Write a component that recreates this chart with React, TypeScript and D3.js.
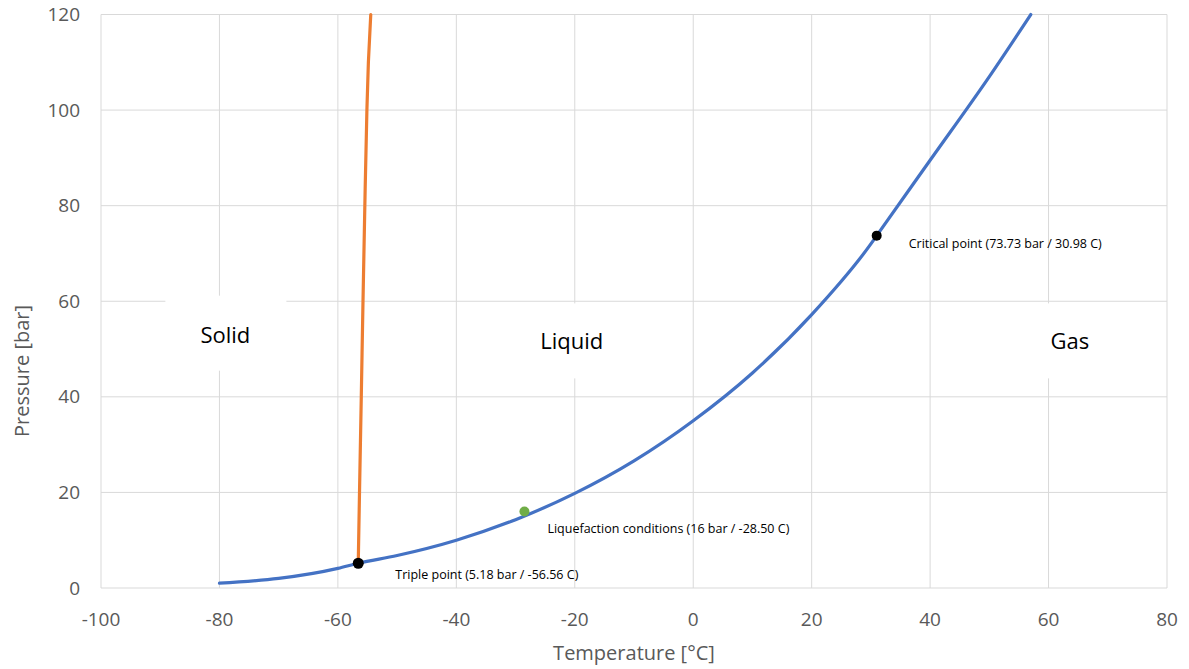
import { useEffect, useRef } from "react";
import * as d3 from "d3";

// vapour pressure curve (blue)
const vaporTemp = [-80, -70, -60, -56.56, -50, -40, -30, -20, -10, 0, 10, 20, 30, 30.98, 40, 50, 57];
const vaporPres = [1.0, 2.0, 4.1, 5.18, 6.8, 10.0, 14.3, 19.8, 26.6, 35.0, 45.0, 57.2, 72.0, 73.73, 89.5, 107, 120];

// melting curve (orange)
const meltTemp = [-56.56, -56.35, -56.05, -55.76, -55.45, -55.1, -54.85, -54.45];
const meltPres = [5.18, 20, 40, 60, 80, 100, 110, 120];

const xTicks = [-100, -80, -60, -40, -20, 0, 20, 40, 60, 80];
const yTicks = [0, 20, 40, 60, 80, 100, 120];

const pointNames = ["Triple point (5.18 bar / -56.56 C)", "Liquefaction conditions (16 bar / -28.50 C)", "Critical point (73.73 bar / 30.98 C)"];
const pointTemp = [-56.56, -28.5, 30.98];
const pointPres = [5.18, 16, 73.73];
const pointColor = ["#000000", "#70AD47", "#000000"];

const phaseNames = ["Solid", "Liquid", "Gas"];
const phaseTemp = [-79, -20.5, 63.6];
const phasePres = [52.8, 51.6, 51.6];

const W = 1189;
const H = 669;
const margin = { top: 14.5, right: 22, bottom: 81, left: 101 };

const PhaseDiagram = () => {
  const svgRef = useRef<SVGSVGElement | null>(null);

  useEffect(() => {
    const svg = d3.select(svgRef.current);
    svg.selectAll("*").remove();

    const x = d3.scaleLinear().domain([-100, 80]).range([margin.left, W - margin.right]);
    const y = d3.scaleLinear().domain([0, 120]).range([H - margin.bottom, margin.top]);

    const grid = svg.append("g");
    grid
      .selectAll("line.v")
      .data(xTicks)
      .join("line")
      .attr("x1", (d) => x(d))
      .attr("x2", (d) => x(d))
      .attr("y1", y(0))
      .attr("y2", y(120))
      .attr("stroke", "#d9d9d9")
      .attr("stroke-width", 1);
    grid
      .selectAll("line.h")
      .data(yTicks)
      .join("line")
      .attr("x1", x(-100))
      .attr("x2", x(80))
      .attr("y1", (d) => y(d))
      .attr("y2", (d) => y(d))
      .attr("stroke", "#d9d9d9")
      .attr("stroke-width", 1);

    // phase labels, white boxes hide the grid behind them
    const phases = svg
      .append("g")
      .selectAll("g")
      .data(phaseNames)
      .join("g")
      .attr("transform", (_, i) => `translate(${x(phaseTemp[i])},${y(phasePres[i])})`);
    phases
      .append("rect")
      .attr("x", -60)
      .attr("y", (_, i) => (i === 0 ? -40 : -38))
      .attr("width", 121)
      .attr("height", 75)
      .attr("fill", "#fff");
    phases
      .append("text")
      .text((d) => d)
      .attr("text-anchor", "middle")
      .attr("dy", "0.35em")
      .attr("font-family", "'Open Sans', sans-serif")
      .attr("font-size", 22)
      .attr("fill", "#000");

    // tick labels
    svg
      .append("g")
      .selectAll("text")
      .data(xTicks)
      .join("text")
      .attr("x", (d) => x(d))
      .attr("y", y(0) + 38)
      .attr("text-anchor", "middle")
      .attr("font-family", "'Open Sans', sans-serif")
      .attr("font-size", 19)
      .attr("fill", "#595959")
      .text((d) => d);
    svg
      .append("g")
      .selectAll("text")
      .data(yTicks)
      .join("text")
      .attr("x", margin.left - 21)
      .attr("y", (d) => y(d))
      .attr("dy", "0.35em")
      .attr("text-anchor", "end")
      .attr("font-family", "'Open Sans', sans-serif")
      .attr("font-size", 19)
      .attr("fill", "#595959")
      .text((d) => d);

    svg
      .append("text")
      .attr("x", 634)
      .attr("y", 660)
      .attr("text-anchor", "middle")
      .attr("font-family", "'Open Sans', sans-serif")
      .attr("font-size", 20)
      .attr("fill", "#595959")
      .text("Temperature [°C]");
    svg
      .append("text")
      .attr("transform", "translate(29,371) rotate(-90)")
      .attr("text-anchor", "middle")
      .attr("font-family", "'Open Sans', sans-serif")
      .attr("font-size", 20)
      .attr("fill", "#595959")
      .text("Pressure [bar]");

    svg
      .append("path")
      .datum(vaporTemp.map((t, i) => [x(t), y(vaporPres[i])] as [number, number]))
      .attr("fill", "none")
      .attr("stroke", "#4472C4")
      .attr("stroke-width", 3.2)
      .attr("stroke-linecap", "round")
      .attr("d", d3.line().curve(d3.curveMonotoneX));

    svg
      .append("path")
      .datum(meltPres.map((p, i) => [x(meltTemp[i]), y(p)] as [number, number]))
      .attr("fill", "none")
      .attr("stroke", "#ED7D31")
      .attr("stroke-width", 3.2)
      .attr("stroke-linecap", "round")
      .attr("d", d3.line().curve(d3.curveMonotoneY));

    const labelDx = [37, 23, 32];
    const labelDy = [16, 21, 12];

    const pts = svg
      .append("g")
      .selectAll("g")
      .data(pointNames)
      .join("g")
      .attr("transform", (_, i) => `translate(${x(pointTemp[i])},${y(pointPres[i])})`);
    pts
      .append("circle")
      .attr("r", (_, i) => (i === 0 ? 5.5 : 5))
      .attr("fill", (_, i) => pointColor[i]);
    pts
      .append("text")
      .attr("x", (_, i) => labelDx[i])
      .attr("y", (_, i) => labelDy[i])
      .attr("font-family", "'Open Sans', sans-serif")
      .attr("font-size", 12.5)
      .attr("fill", "#000")
      .text((d) => d);
  }, []);

  return <svg ref={svgRef} width={W} height={H} style={{ display: "block" }} />;
};

export default function App() {
  return (
    <div style={{ position: "absolute", left: 0, top: 0 }}>
      <PhaseDiagram />
    </div>
  );
}
